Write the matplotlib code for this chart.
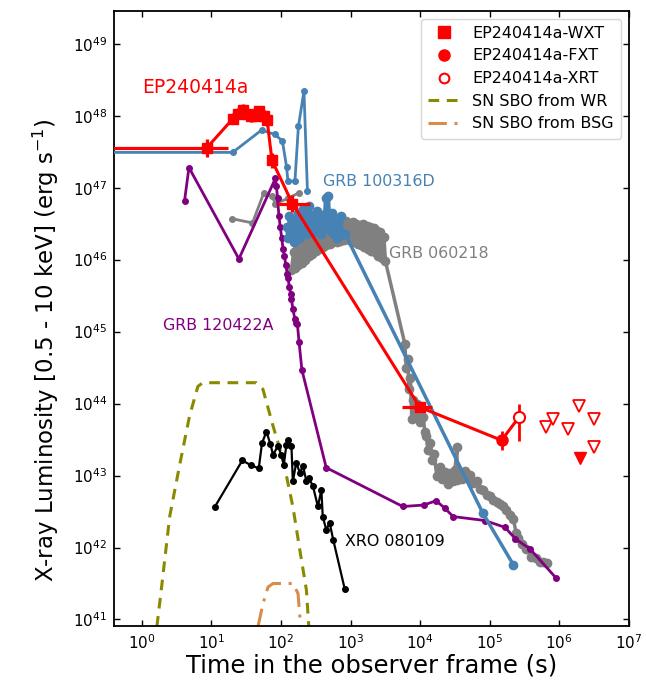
import numpy as np
import matplotlib
matplotlib.use("Agg")
import matplotlib.pyplot as plt
from matplotlib.lines import Line2D

# ---------------------------------------------------------------------------
# Light-curve data (log10 of time in s, log10 of luminosity in erg/s)
# ---------------------------------------------------------------------------

# EP240414a -- Einstein Probe WXT
wxt_logt = [0.93, 1.31, 1.38, 1.45, 1.52, 1.57, 1.63, 1.69, 1.75, 1.80, 1.87, 2.164, 3.995]
wxt_logL = [47.55, 47.96, 48.03, 48.08, 48.02, 47.99, 48.00, 48.06, 48.00, 47.94, 47.38, 46.78, 43.95]
wxt_logt_lo = [-0.6, 1.27, 1.34, 1.41, 1.48, 1.53, 1.59, 1.65, 1.71, 1.76, 1.81, 1.95, 3.74]
wxt_logt_hi = [1.233, 1.35, 1.42, 1.49, 1.56, 1.61, 1.67, 1.73, 1.79, 1.84, 1.93, 2.41, 4.17]
wxt_dlogL = [0.12, 0.08, 0.08, 0.08, 0.08, 0.08, 0.08, 0.08, 0.08, 0.08, 0.10, 0.12, 0.06]

# EP240414a -- FXT
fxt_logt = [5.17]
fxt_logL = [43.49]
fxt_dlogL = [0.13]

# EP240414a -- Swift/XRT detection and upper limits
xrt_logt = [5.42]
xrt_logL = [43.81]
xrt_logL_lo = [43.48]
xrt_logL_hi = [44.00]
xrt_ul_logt = [5.81, 5.91, 6.12, 6.28, 6.50, 6.50]
xrt_ul_logL = [43.68, 43.79, 43.65, 43.97, 43.79, 43.40]
fxt_ul_logt = [6.30]
fxt_ul_logL = [43.25]

# GRB 100316D
grb100316d_early_logt = [-1.0, 1.305, 1.72, 1.91, 2.02, 2.08, 2.10, 2.20, 2.25, 2.33, 2.38]
grb100316d_early_logL = [47.49, 47.49, 47.80, 47.74, 47.65, 47.29, 47.09, 47.09, 47.85, 48.34, 46.95]
grb100316d_xrt_logt = [2.08, 2.10, 2.12, 2.14, 2.16, 2.18, 2.20, 2.22, 2.24, 2.26, 2.28, 2.30,
                       2.32, 2.34, 2.36, 2.38, 2.40, 2.42, 2.44, 2.46, 2.48, 2.50, 2.52, 2.54,
                       2.56, 2.58, 2.60, 2.62, 2.64, 2.66, 2.68, 2.70, 2.72, 2.74, 2.76, 2.78,
                       2.80, 2.82, 2.84, 2.86, 2.88, 2.92, 4.90, 5.34]
grb100316d_xrt_logL = [46.45, 46.30, 46.60, 46.35, 46.55, 46.25, 46.50, 46.40, 46.65, 46.30, 46.55, 46.45,
                       46.70, 46.40, 46.60, 46.35, 46.75, 46.50, 46.62, 46.38, 46.55, 46.48, 46.68, 46.42,
                       46.58, 46.35, 46.62, 46.50, 46.85, 46.45, 46.88, 46.55, 46.40, 46.65, 46.35, 46.58,
                       46.30, 46.52, 46.40, 46.60, 46.35, 46.36, 42.48, 41.76]

# GRB 060218
grb060218_early_logt = [1.29, 1.59, 1.75, 1.87, 1.92, 2.10, 2.26]
grb060218_early_logL = [46.57, 46.51, 46.92, 46.88, 46.78, 46.85, 46.93]
grb060218_xrt_logt = [2.15, 2.18, 2.20, 2.23, 2.25, 2.28, 2.30, 2.33, 2.35, 2.38, 2.40, 2.43, 2.45,
                      2.48, 2.50, 2.53, 2.55, 2.58, 2.60, 2.63, 2.65, 2.68, 2.70, 2.73, 2.75, 2.78,
                      2.80, 2.83, 2.85, 2.88, 2.90, 2.93, 2.95, 2.98, 3.00, 3.03, 3.05, 3.08, 3.10,
                      3.13, 3.15, 3.18, 3.20, 3.23, 3.25, 3.28, 3.30, 3.33, 3.35, 3.38, 3.40, 3.43,
                      3.45, 3.48, 3.50,
                      3.78, 3.80, 3.82, 3.84, 3.86, 3.88, 3.90, 3.93, 3.96, 4.00, 4.04, 4.07, 4.09,
                      4.11, 4.14, 4.17, 4.20, 4.24, 4.28, 4.32, 4.36, 4.40, 4.43, 4.47, 4.50, 4.53,
                      4.53, 4.56, 4.60, 4.64, 4.68, 4.72, 4.76, 4.81, 4.86, 4.91, 4.96, 5.00, 5.05,
                      5.10, 5.15, 5.19, 5.24, 5.29, 5.34, 5.38, 5.41, 5.46, 5.52, 5.60, 5.66, 5.72,
                      5.77, 5.82]
grb060218_xrt_logL = [45.85, 46.10, 45.88, 46.15, 45.92, 46.20, 45.95, 46.24, 46.00, 46.28, 46.05, 46.32, 46.08,
                      46.35, 46.12, 46.40, 46.15, 46.42, 46.18, 46.45, 46.20, 46.46, 46.22, 46.48, 46.24, 46.50,
                      46.25, 46.52, 46.26, 46.50, 46.27, 46.53, 46.28, 46.50, 46.26, 46.52, 46.25, 46.50, 46.22,
                      46.48, 46.20, 46.50, 46.18, 46.47, 46.15, 46.45, 46.12, 46.44, 46.10, 46.40, 46.05, 46.38,
                      46.02, 46.32, 45.98,
                      44.83, 44.50, 44.62, 44.20, 44.35, 43.78, 44.05, 43.85, 44.00, 43.75, 43.82, 43.60, 43.55,
                      43.36, 43.45, 43.22, 43.30, 42.99, 43.12, 42.95, 43.05, 42.88, 43.04, 42.92, 43.08, 43.39,
                      42.94, 43.05, 42.95, 43.06, 42.96, 43.01, 42.90, 42.93, 42.82, 42.80, 42.73, 42.71, 42.66,
                      42.63, 42.60, 42.57, 42.52, 42.45, 42.39, 42.20, 42.13, 42.05, 41.98, 41.87, 41.85, 41.80,
                      41.80, 41.78]

# GRB 120422A
grb120422a_logt = [0.614, 0.677, 1.395, 1.92, 1.934, 1.95, 1.97, 1.99, 2.01, 2.03, 2.05, 2.07,
                   2.09, 2.10, 2.12, 2.14, 2.15, 2.17, 2.20, 2.22, 2.236, 2.26, 2.30, 2.65, 3.75,
                   4.05, 4.23, 4.35, 4.475, 4.93, 5.22, 5.37, 5.58, 5.95]
grb120422a_logL = [46.82, 47.28, 46.01, 47.13, 47.03, 46.85, 46.61, 46.45, 46.30, 46.15, 46.05, 45.92,
                   45.80, 45.75, 45.62, 45.52, 45.45, 45.32, 45.17, 45.12, 45.10, 44.85, 44.47, 43.11, 42.57,
                   42.59, 42.65, 42.55, 42.43, 42.375, 42.28, 42.12, 41.98, 41.58]

# XRO 080109
xro080109_logt = [1.046, 1.444, 1.574, 1.68, 1.727, 1.79, 1.847, 1.885, 1.957, 2.006, 2.04, 2.078,
                  2.106, 2.15, 2.17, 2.22, 2.27, 2.317, 2.365, 2.40, 2.46, 2.53, 2.58, 2.60, 2.65,
                  2.70, 2.75, 2.917]
xro080109_logL = [42.56, 43.21, 43.14, 43.10, 43.45, 43.61, 43.44, 43.29, 43.41, 43.28, 43.15, 43.43,
                  43.50, 43.41, 42.92, 43.18, 43.04, 43.13, 42.92, 42.97, 42.85, 42.57, 42.80, 42.43, 42.25,
                  42.34, 42.11, 41.42]

# Shock-breakout models
sbo_wr_logt = [0.216, 0.279, 0.40, 0.54, 0.686, 0.806, 0.878, 1.646, 1.74, 1.885, 2.03, 2.17, 2.27, 2.365, 2.40]
sbo_wr_logL = [40.90, 41.41, 42.43, 43.13, 43.83, 44.24, 44.29, 44.29, 44.20, 43.69, 43.22, 42.57, 41.97, 41.41, 40.90]
sbo_bsg_logt = [1.669, 1.741, 1.813, 1.885, 2.173, 2.245, 2.283]
sbo_bsg_logL = [40.90, 41.22, 41.45, 41.50, 41.50, 41.36, 40.90]


def lin(v):
    return np.power(10.0, np.asarray(v, dtype=float))


RED = "#ff0000"
BLUE = "#4682b4"
GREY = "#808080"
PURPLE = "#800080"
OLIVE = "#8a8a00"
BSG = "#d98c4a"
WR_DASH = (3.5, 2.5)
BSG_DASH = (6.0, 2.5, 1.0, 2.5)

plt.rcParams["font.family"] = ["DejaVu Sans"]
fig = plt.figure(figsize=(6.46, 6.90), dpi=100)
ax = fig.add_axes([0.1765, 0.0928, 0.797, 0.8918])
ax.set_xscale("log")
ax.set_yscale("log")

# comparison bursts
ax.plot(lin(grb060218_early_logt), lin(grb060218_early_logL), "-o", color=GREY, lw=2, ms=4, zorder=2)
ax.plot(lin(grb060218_xrt_logt), lin(grb060218_xrt_logL), "-o", color=GREY, lw=2.5, ms=6, zorder=2)
ax.plot(lin(grb120422a_logt), lin(grb120422a_logL), "-o", color=PURPLE, lw=2, ms=4, zorder=3)
ax.plot(lin(grb100316d_early_logt), lin(grb100316d_early_logL), "-o", color=BLUE, lw=2, ms=4, zorder=3)
ax.plot(lin(grb100316d_xrt_logt), lin(grb100316d_xrt_logL), "-o", color=BLUE, lw=2.5, ms=6, zorder=3)
ax.plot(lin(xro080109_logt), lin(xro080109_logL), "-o", color="black", lw=1.6, ms=4, zorder=3)

# shock-breakout models
ax.plot(lin(sbo_wr_logt), lin(sbo_wr_logL), color=OLIVE, lw=2.2, dashes=WR_DASH, zorder=2)
ax.plot(lin(sbo_bsg_logt), lin(sbo_bsg_logL), color=BSG, lw=2.2, dashes=BSG_DASH, zorder=2)

# EP240414a
ep_t = np.concatenate([lin(wxt_logt), lin(fxt_logt), lin(xrt_logt)])
ep_L = np.concatenate([lin(wxt_logL), lin(fxt_logL), lin(xrt_logL)])
ax.plot(ep_t, ep_L, "-", color=RED, lw=2.2, zorder=4)

t = lin(wxt_logt)
L = lin(wxt_logL)
xerr = [t - lin(wxt_logt_lo), lin(wxt_logt_hi) - t]
yerr = [L - lin(np.subtract(wxt_logL, wxt_dlogL)), lin(np.add(wxt_logL, wxt_dlogL)) - L]
ax.errorbar(t, L, xerr=xerr, yerr=yerr, fmt="s", color=RED, ms=7.5, elinewidth=2.3,
            capsize=0, zorder=5)

t = lin(fxt_logt)
L = lin(fxt_logL)
yerr = [L - lin(np.subtract(fxt_logL, fxt_dlogL)), lin(np.add(fxt_logL, fxt_dlogL)) - L]
ax.errorbar(t, L, yerr=yerr, fmt="o", color=RED, ms=8, elinewidth=2, capsize=0, zorder=5)

t = lin(xrt_logt)
L = lin(xrt_logL)
yerr = [L - lin(xrt_logL_lo), lin(xrt_logL_hi) - L]
ax.errorbar(t, L, yerr=yerr, fmt="o", color=RED, mfc="white", mec=RED, mew=1.5, ms=8,
            elinewidth=2, capsize=0, zorder=5)

ax.plot(lin(xrt_ul_logt), lin(xrt_ul_logL), "v", color=RED, mfc="white", mec=RED, mew=1.3,
        ms=8, ls="none", zorder=5)
ax.plot(lin(fxt_ul_logt), lin(fxt_ul_logL), "v", color=RED, ms=8, ls="none", zorder=5)

# curve labels
ax.text(lin(0.0), lin(48.39), "EP240414a", color=RED, fontsize=13.5, va="center", ha="left")
ax.text(lin(2.60), lin(47.08), "GRB 100316D", color=BLUE, fontsize=11.4, va="center", ha="left")
ax.text(lin(3.555), lin(46.08), "GRB 060218", color=GREY, fontsize=11.4, va="center", ha="left")
ax.text(lin(0.30), lin(45.09), "GRB 120422A", color=PURPLE, fontsize=11.4, va="center", ha="left")
ax.text(lin(2.917), lin(42.08), "XRO 080109", color="black", fontsize=11.4, va="center", ha="left")

ax.set_xlim(10 ** -0.4, 1e7)
ax.set_ylim(10 ** 40.91, 10 ** 49.46)
ax.set_xticks([1e0, 1e1, 1e2, 1e3, 1e4, 1e5, 1e6, 1e7])
ax.set_yticks([1e41, 1e42, 1e43, 1e44, 1e45, 1e46, 1e47, 1e48, 1e49])
ax.minorticks_off()
ax.tick_params(which="major", direction="in", top=True, right=True, length=4, width=1,
               labelsize=11, pad=5)
for sp in ax.spines.values():
    sp.set_linewidth(1.3)

ax.set_xlabel("Time in the observer frame (s)", fontsize=17.5, labelpad=1)
ax.set_ylabel(r"X-ray Luminosity [0.5 - 10 keV] (erg s$^{-1}$)", fontsize=16.5, labelpad=8)
ax.yaxis.label.set_y(0.4486)

handles = [
    Line2D([], [], marker="s", color=RED, ls="none", ms=8),
    Line2D([], [], marker="o", color=RED, ls="none", ms=8),
    Line2D([], [], marker="o", color=RED, mfc="white", mew=1.5, ls="none", ms=7),
    Line2D([], [], color=OLIVE, lw=2.2, dashes=WR_DASH),
    Line2D([], [], color=BSG, lw=2.2, dashes=BSG_DASH),
]
labels = ["EP240414a-WXT", "EP240414a-FXT", "EP240414a-XRT",
          "SN SBO from WR", "SN SBO from BSG"]
ax.legend(handles, labels, loc="upper right", fontsize=11.5, frameon=True, fancybox=True,
          edgecolor="#cccccc", borderpad=0.45, labelspacing=0.48, handletextpad=0.73,
          borderaxespad=0.5)

fig.savefig("out.png", dpi=100)
